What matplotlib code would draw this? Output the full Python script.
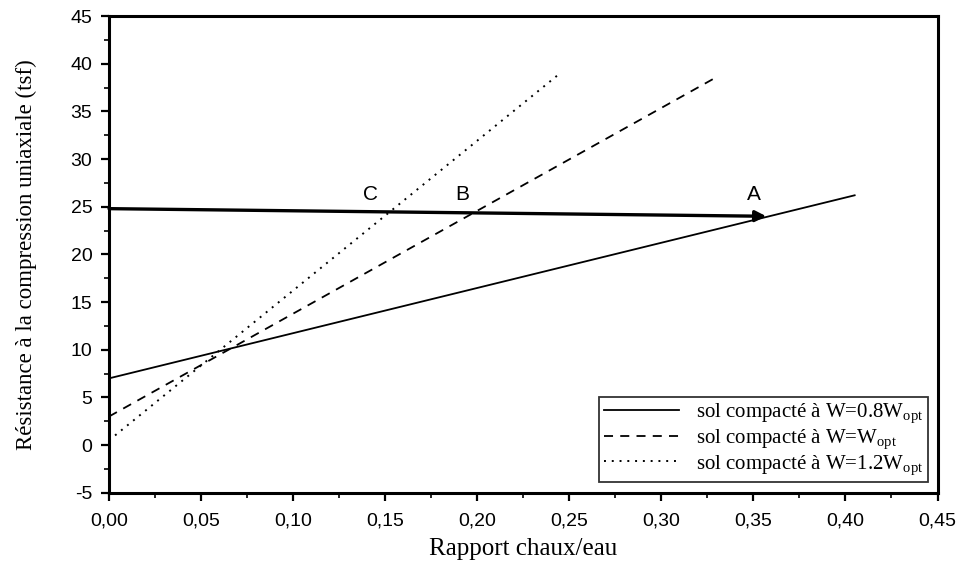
import numpy as np
import matplotlib

matplotlib.use("Agg")
import matplotlib.pyplot as plt
from matplotlib.ticker import MultipleLocator, FuncFormatter

plt.rcParams["mathtext.fontset"] = "custom"
plt.rcParams["mathtext.rm"] = "Liberation Serif"
plt.rcParams["mathtext.it"] = "Liberation Serif:italic"

# straight lines: end points
X_08 = [0.0, 0.405]
Y_08 = [7.0, 26.2]
X_10 = [0.0, 0.330]
Y_10 = [3.0, 38.6]
X_12 = [0.0, 0.245]
Y_12 = [0.5, 39.0]

# horizontal arrow at ~25 tsf, and the point labels
ARROW_X = [0.0, 0.357]
ARROW_Y = [24.8, 24.0]
PT_NAMES = ["C", "B", "A"]
PT_X = [0.142, 0.192, 0.350]
PT_Y = [25.3, 25.3, 25.3]

LABELS = [
    r"sol compacté à W=0.8W$_{\mathrm{opt}}$",
    r"sol compacté à W=W$_{\mathrm{opt}}$",
    r"sol compacté à W=1.2W$_{\mathrm{opt}}$",
]

fig = plt.figure(figsize=(9.69, 5.73), dpi=100)
ax = fig.add_axes([0.1125, 0.14, 0.855, 0.832])

ax.plot(X_08, Y_08, "-", color="k", lw=1.3, label=LABELS[0])
ax.plot(X_10, Y_10, "--", color="k", lw=1.3, dashes=(5, 4), label=LABELS[1])
ax.plot(X_12, Y_12, ":", color="k", lw=1.4, dashes=(1, 3), label=LABELS[2])

ax.annotate("", xy=(ARROW_X[1], ARROW_Y[1]), xytext=(ARROW_X[0], ARROW_Y[0]),
            arrowprops=dict(arrowstyle="-|>", color="k", lw=2.4,
                            mutation_scale=16, shrinkA=0, shrinkB=0))
for name, px, py in zip(PT_NAMES, PT_X, PT_Y):
    ax.text(px, py, name, fontsize=15, family="Liberation Sans",
            ha="center", va="bottom")

ax.set_xlim(0, 0.45)
ax.set_ylim(-5, 45)
ax.xaxis.set_major_locator(MultipleLocator(0.05))
ax.xaxis.set_minor_locator(MultipleLocator(0.025))
ax.yaxis.set_major_locator(MultipleLocator(5))
ax.yaxis.set_minor_locator(MultipleLocator(2.5))
ax.xaxis.set_major_formatter(FuncFormatter(lambda v, p: f"{v:.2f}".replace(".", ",")))
ax.yaxis.set_major_formatter(FuncFormatter(lambda v, p: f"{v:.0f}"))

ax.tick_params(which="major", direction="out", length=6, width=1.6,
               labelsize=14)
ax.tick_params(axis="x", which="major", pad=8)
ax.tick_params(axis="y", which="major", pad=6)
ax.tick_params(which="minor", direction="out", length=3.5, width=1.2)
for lab in ax.get_xticklabels() + ax.get_yticklabels():
    lab.set_family("Liberation Sans")
for sp in ax.spines.values():
    sp.set_linewidth(2.2)

ax.set_xlabel("Rapport chaux/eau", family="Liberation Serif", fontsize=18, labelpad=6)
ax.set_ylabel("Résistance à la compression uniaxiale (tsf)",
              family="Liberation Serif", fontsize=16.5, labelpad=24)

leg = ax.legend(loc="lower right", bbox_to_anchor=(0.996, 0.01),
                prop={"family": "Liberation Serif", "size": 15},
                frameon=True, fancybox=False, handlelength=3.6,
                borderpad=0.25, labelspacing=0.1, handletextpad=0.8,
                borderaxespad=0.3)
leg.get_frame().set_edgecolor("k")
leg.get_frame().set_linewidth(1.3)

fig.savefig("out.png", dpi=100)
